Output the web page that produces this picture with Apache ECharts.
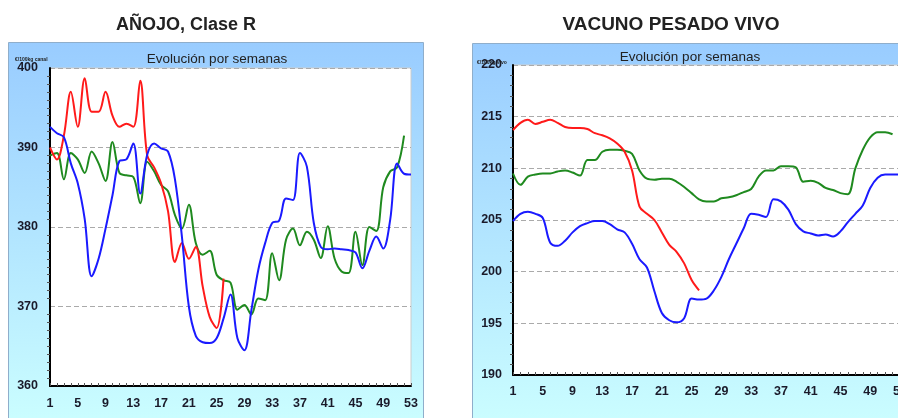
<!DOCTYPE html>
<html>
<head>
<meta charset="utf-8">
<script src="https://cdn.jsdelivr.net/npm/echarts@6/dist/echarts.min.js"></script>
<style>
html,body{margin:0;padding:0;background:#fff;}
#c{width:898px;height:418px;}
</style>
</head>
<body>
<div id="c"></div>
<script>
// ---- data ----
var weeks = [];
for (var i = 1; i <= 53; i++) weeks.push(String(i));

var leftTitle = "AÑOJO, Clase R";
var rightTitle = "VACUNO PESADO VIVO";
var subTitle = "Evolución por semanas";
var leftUnit = "€/100kg canal";
var rightUnit = "€/100kg vivo";

// AÑOJO, Clase R (€/100kg canal)
var anojoRed = [390, 388.5, 391.5, 397, 392.6, 398.7, 394.5, 394.5, 397, 394, 392.6, 393, 392.6, 398.4, 389, 387.5, 385.5, 382, 375.6, 378, 376, 377.5, 372.5, 368.7, 367.3, 373.5];
var anojoBlue = [392.6, 391.8, 391.3, 388, 385.5, 381, 373.8, 376, 379.8, 384, 388.3, 388.5, 390.5, 384.2, 389.1, 390.5, 389.9, 389.5, 386, 378.8, 370, 366.3, 365.5, 365.4, 366, 368.5, 371.5, 366, 364.5, 369.5, 374.6, 378, 380.5, 380.8, 383.6, 383.4, 389.3, 387.6, 380.5, 377.5, 377.2, 377.3, 377.2, 377.1, 376.8, 374.8, 377, 378.8, 377.3, 380.9, 388, 386.7, 386.6];
var anojoGreen = [389, 389.3, 386, 389.3, 388.5, 386.8, 389.5, 388, 385.8, 390.7, 386.8, 386.5, 386.3, 383, 388.2, 387, 385.3, 384.5, 381.5, 379.8, 382.8, 378, 376.5, 377, 374, 373.3, 373, 369.6, 370.2, 369, 371, 370.8, 376.7, 373.3, 378.4, 379.8, 377.7, 379.4, 378.4, 376.1, 380.1, 376, 374.4, 374.2, 379.4, 375.2, 380, 379.5, 385, 387, 387.5, 391.5];

// VACUNO PESADO VIVO (€/100kg vivo)
var vacunoRed = [213.7, 214.4, 214.7, 214.3, 214.5, 214.7, 214.4, 214, 213.9, 213.9, 213.8, 213.4, 213.2, 212.9, 212.4, 211.6, 209.8, 206.3, 205.6, 205, 203.8, 202.6, 201.9, 200.8, 199.2, 198.2];
var vacunoBlue = [204.9, 205.6, 205.8, 205.6, 205.2, 202.8, 202.5, 203, 203.8, 204.4, 204.7, 204.9, 204.9, 204.6, 204.1, 203.8, 202.7, 201.2, 200.4, 198.1, 196, 195.3, 195.1, 195.5, 197.4, 197.3, 197.4, 198.2, 199.5, 201.2, 202.7, 204.2, 205.6, 205.5, 205.3, 207, 206.8, 206, 204.6, 203.9, 203.7, 203.5, 203.6, 203.4, 203.9, 204.8, 205.6, 206.4, 208.1, 209.1, 209.4, 209.4, 209.4];
var vacunoGreen = [209.5, 208.4, 209.2, 209.4, 209.5, 209.5, 209.7, 209.8, 209.6, 209.3, 210.8, 210.8, 211.6, 211.8, 211.8, 211.7, 211.4, 209.8, 209, 208.9, 209, 209, 208.7, 208.2, 207.6, 207, 206.8, 206.8, 207.1, 207.2, 207.4, 207.7, 208, 209.2, 209.8, 209.8, 210.2, 210.2, 210.1, 208.7, 208.8, 208.6, 208.1, 207.9, 207.6, 207.5, 210, 211.8, 213, 213.5, 213.5, 213.3];

var RED = '#ff1a1a', BLUE = '#1a1aff', GREEN = '#1f8a1f';
var FONT = 'Liberation Sans, Arial, sans-serif';

function panelGradient() {
  return new echarts.graphic.LinearGradient(0, 0, 0, 1, [
    {offset: 0, color: '#99ccff'},
    {offset: 1, color: '#ccffff'}
  ]);
}

function xAxisCfg(gi, margin) {
  return {
    gridIndex: gi, type: 'category', data: weeks, boundaryGap: false,
    axisLine: {show: true, lineStyle: {color: '#000', width: 2}},
    axisTick: {show: true, inside: true, length: 3, interval: 0, lineStyle: {color: '#555', width: 1}},
    axisLabel: {interval: 3, margin: margin, fontSize: 12.5, color: '#1a1a2a', fontFamily: FONT, fontWeight: 'bold', hideOverlap: false},
    splitLine: {show: false}
  };
}
function yAxisCfg(gi, min, max, interval, minorSplit, margin) {
  return {
    gridIndex: gi, type: 'value', min: min, max: max, interval: interval,
    axisLine: {show: true, lineStyle: {color: '#000', width: 2}},
    axisTick: {show: false},
    minorTick: {show: true, splitNumber: minorSplit, length: 3, lineStyle: {color: '#555', width: 1}},
    axisLabel: {margin: margin, fontSize: 12.5, color: '#1a1a2a', fontFamily: FONT, fontWeight: 'bold'},
    splitLine: {show: true, lineStyle: {color: '#aaaaaa', type: [5, 3], width: 1}},
    minorSplitLine: {show: false}
  };
}
function lineSeries(xi, yi, data, color) {
  return {
    type: 'line', xAxisIndex: xi, yAxisIndex: yi, data: data,
    smooth: 0.35, symbol: 'none', lineStyle: {color: color, width: 2}, itemStyle: {color: color},
    z: 5
  };
}

var chart = echarts.init(document.getElementById('c'), null, {renderer: 'canvas'});
chart.setOption({
  animation: false,
  backgroundColor: '#ffffff',
  graphic: [
    {type: 'rect', shape: {x: 8.5, y: 42.5, width: 415, height: 390}, style: {fill: panelGradient(), stroke: '#8faecb', lineWidth: 1}, z: -10},
    {type: 'rect', shape: {x: 472.5, y: 43.5, width: 440, height: 390}, style: {fill: panelGradient(), stroke: '#8faecb', lineWidth: 1}, z: -10},
    {type: 'text', x: 186, y: 25, style: {text: leftTitle, font: 'bold 18px ' + FONT, fill: '#222', align: 'center', verticalAlign: 'middle'}, z: 10},
    {type: 'text', x: 671, y: 25, style: {text: rightTitle, font: 'bold 19px ' + FONT, fill: '#222', align: 'center', verticalAlign: 'middle'}, z: 10},
    {type: 'text', x: 217, y: 59, style: {text: subTitle, font: '13.5px ' + FONT, fill: '#222', align: 'center', verticalAlign: 'middle'}, z: 10},
    {type: 'text', x: 690, y: 57, style: {text: subTitle, font: '13.5px ' + FONT, fill: '#222', align: 'center', verticalAlign: 'middle'}, z: 10},
    {type: 'text', x: 15, y: 60, style: {text: leftUnit, font: 'bold 5px ' + FONT, fill: '#222', align: 'left', verticalAlign: 'middle'}, z: 10},
    {type: 'text', x: 477, y: 63, style: {text: rightUnit, font: 'bold 5px ' + FONT, fill: '#222', align: 'left', verticalAlign: 'middle'}, z: 10}
  ],
  grid: [
    {left: 50, top: 68, width: 361, height: 318, outerBoundsMode: 'none', containLabel: false, show: true, backgroundColor: '#ffffff', borderColor: '#cccccc', borderWidth: 1},
    {left: 513, top: 65, width: 387, height: 310, outerBoundsMode: 'none', containLabel: false, show: true, backgroundColor: '#ffffff', borderColor: '#cccccc', borderWidth: 1}
  ],
  xAxis: [xAxisCfg(0, 11), xAxisCfg(1, 10)],
  yAxis: [yAxisCfg(0, 360, 400, 10, 10, 12), yAxisCfg(1, 190, 220, 5, 5, 11)],
  series: [
    lineSeries(0, 0, anojoGreen, GREEN),
    lineSeries(0, 0, anojoRed, RED),
    lineSeries(0, 0, anojoBlue, BLUE),
    lineSeries(1, 1, vacunoGreen, GREEN),
    lineSeries(1, 1, vacunoRed, RED),
    lineSeries(1, 1, vacunoBlue, BLUE)
  ]
});
</script>
</body>
</html>
